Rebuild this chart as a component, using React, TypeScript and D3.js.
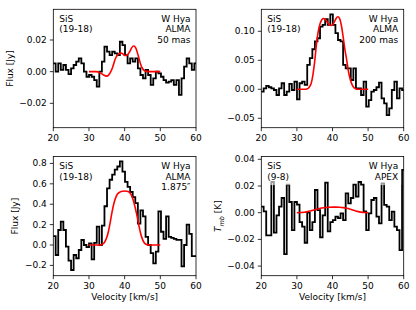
import React from "react";
import * as d3 from "d3";

const W = 416;
const H = 310;

// spectral channel grid, km/s (centre of first channel, channel width)
const chanStart = 20.3;
const chanWidth = 0.72;

// SiS (19-18), ALMA 50 mas aperture [Jy]
const flux50mas = [
  0.0053, 0.0, 0.0053, 0.0011, 0.0042, 0.0011, -0.0015, 0.0021, 0.0042, 0.0063,
  0.0084, 0.0053, 0.0, -0.0032, -0.0021, -0.0032, -0.0053, -0.0095, 0.0, 0.0063,
  0.0158, 0.0126, 0.0105, 0.0126, 0.0116, 0.0105, 0.0189, 0.0168, 0.0105, 0.0053,
  0.0084, 0.0063, 0.0084, 0.0021, -0.0021, -0.0042, 0.0011, -0.0021, -0.0084, -0.0042,
  0.0, -0.0011, -0.0032, -0.0053, -0.0069, -0.0063, -0.0053, -0.0084, -0.0053, -0.0147,
  -0.0042, 0.0032, 0.0084, 0.0053, 0.0011, 0.0053,
];

// SiS (19-18), ALMA 200 mas aperture [Jy]
const flux200mas = [
  -0.004, 0.0017, 0.0058, 0.0035, 0.0017, -0.0012, -0.0098, 0.0017, 0.0104, -0.0098,
  -0.004, 0.0092, -0.0012, 0.0133, -0.0173, 0.0104, 0.0133, 0.0075, 0.042, 0.0537,
  0.069, 0.0825, 0.088, 0.108, 0.111, 0.121, 0.111, 0.129, 0.111, 0.097,
  0.085, 0.0825, 0.042, 0.036, 0.036, 0.016, 0.036, 0.0017, 0.0017, -0.0098,
  0.0133, -0.03, -0.0185, -0.004, -0.0012, 0.0035, 0.0115, -0.0156, -0.0242, -0.0444,
  -0.0329, -0.0012, 0.0133, -0.0156, 0.0017, -0.0012,
];

// SiS (19-18), ALMA 1.875" aperture [Jy]
const flux1875 = [
  0.088, -0.098, 0.147, 0.229, 0.147, -0.016, -0.154, -0.245, -0.098, -0.13,
  -0.049, 0.049, 0.0, -0.02, 0.016, -0.14, 0.02, 0.18, 0.0, 0.19,
  0.38, 0.556, 0.64, 0.69, 0.74, 0.77, 0.82, 0.72, 0.62, 0.57,
  0.52, 0.47, 0.41, 0.21, 0.34, 0.28, 0.08, 0.0, -0.08, -0.18,
  -0.065, 0.33, 0.13, 0.06, 0.28, 0.08, 0.07, 0.06, 0.05, 0.05,
  -0.21, 0.0, 0.2, 0.11, -0.11, -0.11,
];

// SiS (9-8), APEX [K]
const tmbApex = [
  0.0045, 0.001, -0.017, -0.017, 0.023, -0.015, -0.002, 0.0045, 0.011, -0.031,
  0.021, 0.008, -0.013, 0.008, 0.006, -0.007, -0.0105, -0.0225, 0.0, -0.013,
  -0.007, 0.017, 0.002, -0.0185, -0.002, 0.0225, -0.014, -0.007, -0.0055, -0.003,
  -0.004, -0.0005, -0.0055, 0.0145, 0.007, 0.011, 0.021, 0.012, 0.023, 0.021,
  0.001, -0.013, -0.0005, 0.0095, 0.011, -0.003, -0.008, 0.022, 0.0058, 0.0045,
  -0.0055, 0.0008, -0.0105, -0.013, -0.028, 0.032,
];

// model line profiles
const model50Vel = [30, 32, 33, 34, 35, 35.5, 36, 36.5, 37, 37.5, 38, 38.5, 39, 39.5, 40, 40.5, 41, 41.5, 42, 42.5, 43, 43.5, 44, 44.5, 45, 45.5, 46, 47, 50];
const model50 = [0, 0, -0.0005, -0.002, -0.0028, -0.0022, -0.0005, 0.002, 0.0055, 0.0088, 0.0105, 0.0115, 0.0118, 0.0112, 0.0102, 0.0102, 0.0112, 0.013, 0.0152, 0.0162, 0.0155, 0.0125, 0.0085, 0.0045, 0.002, 0.0007, 0.0002, 0, 0];

const model200Vel = [30, 32, 33, 33.5, 34, 34.5, 35, 35.5, 36, 36.5, 37, 37.5, 38, 38.5, 39, 39.5, 40, 40.5, 41, 41.5, 42, 42.5, 43, 43.5, 44, 44.5, 45, 45.5, 46, 46.5, 47, 50];
const model200 = [0, 0, 0.001, 0.004, 0.01, 0.025, 0.048, 0.078, 0.1, 0.113, 0.12, 0.122, 0.12, 0.116, 0.112, 0.11, 0.111, 0.116, 0.122, 0.125, 0.122, 0.11, 0.09, 0.068, 0.05, 0.03, 0.017, 0.008, 0.003, 0.001, 0, 0];

const model1875Vel = [30, 33, 33.5, 34, 34.5, 35, 35.5, 36, 36.5, 37, 37.5, 38, 38.5, 39, 40, 41, 41.5, 42, 42.5, 43, 43.5, 44, 44.5, 45, 45.5, 46, 46.5, 47, 50];
const model1875 = [0, 0, 0.003, 0.012, 0.035, 0.075, 0.14, 0.23, 0.33, 0.41, 0.465, 0.5, 0.515, 0.525, 0.53, 0.525, 0.51, 0.48, 0.43, 0.36, 0.28, 0.19, 0.11, 0.055, 0.022, 0.007, 0.001, 0, 0];

const modelApexVel = [30, 31, 32, 33, 34, 35, 36, 37, 38, 39, 40, 41, 42, 43, 44, 45, 46, 47, 48, 49, 50];
const modelApex = [0, 0.0001, 0.0003, 0.0008, 0.0015, 0.0022, 0.0029, 0.0035, 0.0039, 0.0041, 0.0042, 0.0042, 0.0041, 0.0038, 0.0033, 0.0026, 0.0018, 0.001, 0.0004, 0.0001, 0];

// axis ticks
const xTicks = [20, 30, 40, 50, 60];
const yTicks50 = [-0.02, 0, 0.02];
const yTicks200 = [-0.05, 0, 0.05, 0.1];
const yTicks1875 = [-0.2, 0, 0.2, 0.4, 0.6, 0.8];
const yTicksApex = [-0.04, -0.02, 0, 0.02, 0.04];

const FONT = "DejaVu Sans, sans-serif";
const FS = 9;

type PanelSpec = {
  id: string;
  left: number;
  right: number;
  top: number;
  bottom: number;
  yDomain: [number, number];
  yTicks: number[];
  decimals: number;
  spec: number[];
  modelVel: number[];
  model: number[];
  leftText: string[];
  rightText: string[];
  yLabel: "flux" | "tmb" | null;
  yLabelX: number;
  xLabel: boolean;
};

const panels: PanelSpec[] = [
  {
    id: "p50", left: 53.3, right: 196, top: 9.3, bottom: 127.7,
    yDomain: [-0.0354, 0.0394], yTicks: yTicks50, decimals: 2,
    spec: flux50mas, modelVel: model50Vel, model: model50,
    leftText: ["SiS", "(19-18)"], rightText: ["W Hya", "ALMA", "50 mas"],
    yLabel: "flux", yLabelX: 10, xLabel: false,
  },
  {
    id: "p200", left: 261.3, right: 403.7, top: 9.3, bottom: 127.7,
    yDomain: [-0.0662, 0.1379], yTicks: yTicks200, decimals: 2,
    spec: flux200mas, modelVel: model200Vel, model: model200,
    leftText: ["SiS", "(19-18)"], rightText: ["W Hya", "ALMA", "200 mas"],
    yLabel: null, yLabelX: 0, xLabel: false,
  },
  {
    id: "p1875", left: 53.3, right: 196, top: 156.5, bottom: 275.7,
    yDomain: [-0.301, 0.868], yTicks: yTicks1875, decimals: 1,
    spec: flux1875, modelVel: model1875Vel, model: model1875,
    leftText: ["SiS", "(19-18)"], rightText: ["W Hya", "ALMA", "1.875\u2033"],
    yLabel: "flux", yLabelX: 15, xLabel: true,
  },
  {
    id: "papex", left: 261.3, right: 403.7, top: 156.5, bottom: 275.7,
    yDomain: [-0.0472, 0.0421], yTicks: yTicksApex, decimals: 2,
    spec: tmbApex, modelVel: modelApexVel, model: modelApex,
    leftText: ["SiS", "(9-8)"], rightText: ["W Hya", "APEX"],
    yLabel: "tmb", yLabelX: 218, xLabel: true,
  },
];

const fmt = (v: number, d: number) => {
  const s = Math.abs(v).toFixed(d);
  return v < -1e-9 ? "\u2212" + s : s;
};

const textWidth = (s: string) => s.length * FS * 0.6;

function Panel({ p }: { p: PanelSpec }) {
  const x = d3.scaleLinear().domain([20, 60]).range([p.left, p.right]);
  const y = d3.scaleLinear().domain(p.yDomain).range([p.bottom, p.top]);

  // channel centres, padded by half a channel so the steps reach the frame
  const pts: [number, number][] = p.spec.map((v, i) => [chanStart + i * chanWidth, v]);
  pts.unshift([pts[0][0] - chanWidth / 2, pts[0][1]]);
  pts.push([pts[pts.length - 1][0] + chanWidth / 2, pts[pts.length - 1][1]]);

  const stepLine = d3
    .line<[number, number]>()
    .x((d) => x(d[0]))
    .y((d) => y(d[1]))
    .curve(d3.curveStep);

  const modelLine = d3
    .line<number>()
    .x((_, i) => x(p.modelVel[i]))
    .y((d) => y(d))
    .curve(d3.curveMonotoneX);

  const lh = 10.8;
  const b0 = p.top + 12.3;
  const leftW = d3.max(p.leftText, textWidth) as number;
  const rightW = d3.max(p.rightText, textWidth) as number;
  const tx = p.right - 5.5;

  return (
    <g>
      <defs>
        <clipPath id={"clip-" + p.id}>
          <rect x={p.left} y={p.top} width={p.right - p.left} height={p.bottom - p.top} />
        </clipPath>
      </defs>
      <g clipPath={`url(#clip-${p.id})`}>
        <path d={stepLine(pts) || ""} fill="none" stroke="#000" strokeWidth={1.8} strokeLinejoin="miter" />
        <path d={modelLine(p.model) || ""} fill="none" stroke="#ff0000" strokeWidth={1.6} />
        <rect x={p.left + 3} y={p.top + 3} width={leftW + 6} height={p.leftText.length * lh + 4}
          fill="#fff" fillOpacity={0.6} />
        <rect x={tx - rightW - 3} y={p.top + 3} width={rightW + 6} height={p.rightText.length * lh + 4}
          fill="#fff" fillOpacity={0.6} />
      </g>
      <g fontFamily={FONT} fontSize={FS} fill="#000">
        {p.leftText.map((t, i) => (
          <text key={"l" + i} x={p.left + 6} y={b0 + i * lh}>{t}</text>
        ))}
        {p.rightText.map((t, i) => (
          <text key={"r" + i} x={tx} y={b0 + i * lh} textAnchor="end">{t}</text>
        ))}
      </g>
      <rect x={p.left} y={p.top} width={p.right - p.left} height={p.bottom - p.top}
        fill="none" stroke="#000" strokeWidth={0.8} />
      <g fontFamily={FONT} fontSize={FS} fill="#000">
        {xTicks.map((t) => (
          <g key={"x" + t}>
            <line x1={x(t)} x2={x(t)} y1={p.bottom} y2={p.bottom + 3.5} stroke="#000" strokeWidth={0.8} />
            <text x={x(t)} y={p.bottom + 12.8} textAnchor="middle">{t}</text>
          </g>
        ))}
        {p.yTicks.map((t) => (
          <g key={"y" + t}>
            <line x1={p.left - 3.5} x2={p.left} y1={y(t)} y2={y(t)} stroke="#000" strokeWidth={0.8} />
            <text x={p.left - 6.5} y={y(t)} dy="0.34em" textAnchor="end">{fmt(t, p.decimals)}</text>
          </g>
        ))}
        {p.yLabel === "flux" && (
          <text transform={`translate(${p.yLabelX},${(p.top + p.bottom) / 2}) rotate(-90)`}
            textAnchor="middle" dy="0.34em">Flux [Jy]</text>
        )}
        {p.yLabel === "tmb" && (
          <text transform={`translate(${p.yLabelX},${(p.top + p.bottom) / 2}) rotate(-90)`}
            textAnchor="middle" dy="0.34em">
            <tspan fontStyle="italic">T</tspan>
            <tspan fontStyle="italic" fontSize={6.5} dy="2.5">mb</tspan>
            <tspan dy="-2.5"> [K]</tspan>
          </text>
        )}
        {p.xLabel && (
          <text x={(p.left + p.right) / 2} y={300} textAnchor="middle">Velocity [km/s]</text>
        )}
      </g>
    </g>
  );
}

export default function App() {
  return (
    <svg width={W} height={H} style={{ position: "absolute", left: 0, top: 0, background: "#fff" }}>
      <rect width={W} height={H} fill="#fff" />
      {panels.map((p) => (
        <Panel key={p.id} p={p} />
      ))}
    </svg>
  );
}
